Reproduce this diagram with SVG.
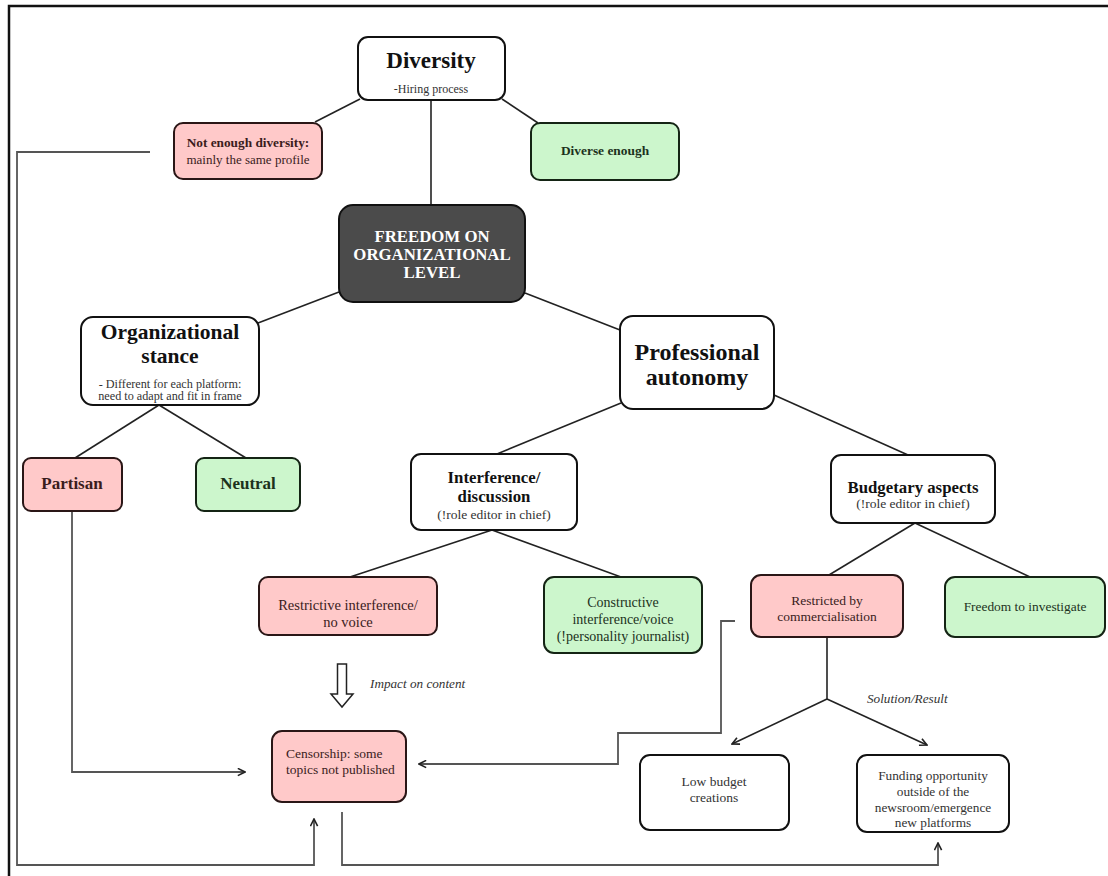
<svg xmlns="http://www.w3.org/2000/svg" width="1108" height="876" viewBox="0 0 1108 876">
  <defs>
    <marker id="chev" viewBox="0 0 10 10" refX="9" refY="5" markerWidth="9" markerHeight="9" markerUnits="userSpaceOnUse" orient="auto">
      <path d="M1,1 L9,5 L1,9" fill="none" stroke="#222" stroke-width="1.8"/>
    </marker>
    <style>
      text { font-family: "Liberation Serif", "Times New Roman", serif; text-anchor: middle; }
      .box { fill: #ffffff; stroke: #111; stroke-width: 2; }
      .pink { fill: #ffc9c9; stroke: #2a1616; stroke-width: 2; }
      .green { fill: #ccf6cc; stroke: #142414; stroke-width: 2; }
      .dark { fill: #4b4b4b; stroke: #111; stroke-width: 2; }
      .tree { stroke: #222; stroke-width: 1.6; fill: none; }
      .flow { stroke: #555; stroke-width: 1.8; fill: none; }
      .h1 { font-weight: bold; fill: #111; }
      .sub { fill: #333; }
      .pt { fill: #3a1c1c; }
      .gt { fill: #1c321c; }
      .left { text-anchor: start; }
      .note { font-style: italic; fill: #333; text-anchor: start; }
    </style>
  </defs>

  <rect width="1108" height="876" fill="#ffffff"/>
  <!-- outer frame -->
  <path d="M9,876 V6 H1108" fill="none" stroke="#111" stroke-width="2.5"/>

  <!-- connectors -->
  <g id="connectors">
    <line class="tree" x1="360" y1="99" x2="315" y2="122"/>
    <line class="tree" x1="502" y1="99" x2="538" y2="123"/>
    <line class="tree" x1="431" y1="100" x2="431" y2="205"/>
    <line class="tree" x1="339" y1="292" x2="258" y2="323"/>
    <line class="tree" x1="525" y1="293" x2="620" y2="330"/>
    <line class="tree" x1="159" y1="405" x2="75" y2="458"/>
    <line class="tree" x1="159" y1="405" x2="246" y2="458"/>
    <line class="tree" x1="621" y1="403" x2="497" y2="454"/>
    <line class="tree" x1="774" y1="395" x2="908" y2="455"/>
    <line class="tree" x1="492" y1="530" x2="350" y2="577"/>
    <line class="tree" x1="492" y1="530" x2="621" y2="577"/>
    <line class="tree" x1="915" y1="523" x2="829" y2="575"/>
    <line class="tree" x1="915" y1="523" x2="1030" y2="577"/>
    <!-- commercialisation outcomes -->
    <line class="tree" x1="827" y1="637" x2="827" y2="699"/>
    <line class="tree" x1="827" y1="699" x2="732" y2="744" marker-end="url(#chev)"/>
    <line class="tree" x1="827" y1="699" x2="927" y2="745" marker-end="url(#chev)"/>
    <!-- feeds into censorship -->
    <path class="flow" d="M72,511 V772 H245" marker-end="url(#chev)"/>
    <path class="flow" d="M735,621 H721 V733 H618 V764 H419" marker-end="url(#chev)"/>
    <path class="flow" d="M150,152 H17 V865 H314 V819" marker-end="url(#chev)"/>
    <path class="flow" d="M342,812 V865 H938 V843" marker-end="url(#chev)"/>
    <!-- hollow impact arrow -->
    <path d="M337.5,664 H346.5 V694 H353 L342,707 L331,694 H337.5 Z" fill="#fff" stroke="#222" stroke-width="1.5"/>
    <text class="note" x="370" y="688" font-size="13.2">Impact on content</text>
    <text class="note" x="867" y="703" font-size="13.2">Solution/Result</text>
  </g>

  <g id="diversity">
    <rect class="box" x="358" y="37" width="147" height="63" rx="10"/>
    <text class="h1" x="431" y="68" font-size="23">Diversity</text>
    <text class="sub" x="431" y="93" font-size="12">-Hiring process</text>
  </g>

  <g id="not-enough-diversity">
    <rect class="pink" x="174" y="123" width="148" height="56" rx="9"/>
    <text class="pt" x="248" y="147" font-size="13.3" font-weight="bold">Not enough diversity:</text>
    <text class="pt" x="248" y="164" font-size="13">mainly the same profile</text>
  </g>

  <g id="diverse-enough">
    <rect class="green" x="531" y="123" width="148" height="57" rx="9"/>
    <text class="gt" x="605" y="155" font-size="13.4" font-weight="bold">Diverse enough</text>
  </g>

  <g id="freedom">
    <rect class="dark" x="339" y="205" width="186" height="97" rx="14"/>
    <text x="432" y="242" font-size="16.8" font-weight="bold" fill="#ffffff">FREEDOM ON</text>
    <text x="432" y="260" font-size="16.8" font-weight="bold" fill="#ffffff">ORGANIZATIONAL</text>
    <text x="432" y="278" font-size="16.8" font-weight="bold" fill="#ffffff">LEVEL</text>
  </g>

  <g id="organizational-stance">
    <rect class="box" x="81" y="317" width="178" height="88" rx="12"/>
    <text class="h1" x="170" y="339" font-size="21.5">Organizational</text>
    <text class="h1" x="170" y="363" font-size="21.5">stance</text>
    <text class="sub" x="170" y="388" font-size="12.2">- Different for each platform:</text>
    <text class="sub" x="170" y="400" font-size="12.2">need to adapt and fit in frame</text>
  </g>

  <g id="partisan">
    <rect class="pink" x="23" y="458" width="99" height="53" rx="8"/>
    <text class="pt" x="72" y="489" font-size="17" font-weight="bold">Partisan</text>
  </g>

  <g id="neutral">
    <rect class="green" x="196" y="458" width="104" height="53" rx="8"/>
    <text class="gt" x="248" y="489" font-size="17" font-weight="bold">Neutral</text>
  </g>

  <g id="professional-autonomy">
    <rect class="box" x="620" y="316" width="154" height="93" rx="13"/>
    <text class="h1" x="697" y="360" font-size="24">Professional</text>
    <text class="h1" x="697" y="385" font-size="24">autonomy</text>
  </g>

  <g id="interference">
    <rect class="box" x="411" y="454" width="166" height="76" rx="10"/>
    <text class="h1" x="494" y="483" font-size="16.8">Interference/</text>
    <text class="h1" x="494" y="502" font-size="16.8">discussion</text>
    <text class="sub" x="494" y="519" font-size="13.5">(!role editor in chief)</text>
  </g>

  <g id="budgetary">
    <rect class="box" x="831" y="455" width="164" height="68" rx="10"/>
    <text class="h1" x="913" y="493" font-size="16.8">Budgetary aspects</text>
    <text class="sub" x="913" y="508" font-size="13.5">(!role editor in chief)</text>
  </g>

  <g id="restrictive">
    <rect class="pink" x="259" y="577" width="178" height="58" rx="9"/>
    <text class="pt" x="348" y="610" font-size="14.5">Restrictive interference/</text>
    <text class="pt" x="348" y="627" font-size="14.5">no voice</text>
  </g>

  <g id="constructive">
    <rect class="green" x="544" y="577" width="158" height="76" rx="10"/>
    <text class="gt" x="623" y="607" font-size="14">Constructive</text>
    <text class="gt" x="623" y="624" font-size="14">interference/voice</text>
    <text class="gt" x="623" y="641" font-size="14">(!personality journalist)</text>
  </g>

  <g id="commercialisation">
    <rect class="pink" x="751" y="575" width="152" height="62" rx="10"/>
    <text class="pt" x="827" y="605" font-size="13.5">Restricted by</text>
    <text class="pt" x="827" y="621" font-size="13.5">commercialisation</text>
  </g>

  <g id="investigate">
    <rect class="green" x="945" y="577" width="160" height="60" rx="10"/>
    <text class="gt" x="1025" y="611" font-size="13.4">Freedom to investigate</text>
  </g>

  <g id="censorship">
    <rect class="pink" x="272" y="731" width="134" height="71" rx="10"/>
    <text class="pt left" x="286" y="758" font-size="13.5">Censorship: some</text>
    <text class="pt left" x="286" y="774" font-size="13.5">topics not published</text>
  </g>

  <g id="low-budget">
    <rect class="box" x="640" y="755" width="149" height="75" rx="10"/>
    <text class="sub" x="714" y="786" font-size="13.5">Low budget</text>
    <text class="sub" x="714" y="802" font-size="13.5">creations</text>
  </g>

  <g id="funding">
    <rect class="box" x="857" y="755" width="152" height="77" rx="10"/>
    <text class="sub" x="933" y="780" font-size="13.3">Funding opportunity</text>
    <text class="sub" x="933" y="796" font-size="13.3">outside of the</text>
    <text class="sub" x="933" y="812" font-size="13.3">newsroom/emergence</text>
    <text class="sub" x="933" y="827" font-size="13.3">new platforms</text>
  </g>
</svg>
